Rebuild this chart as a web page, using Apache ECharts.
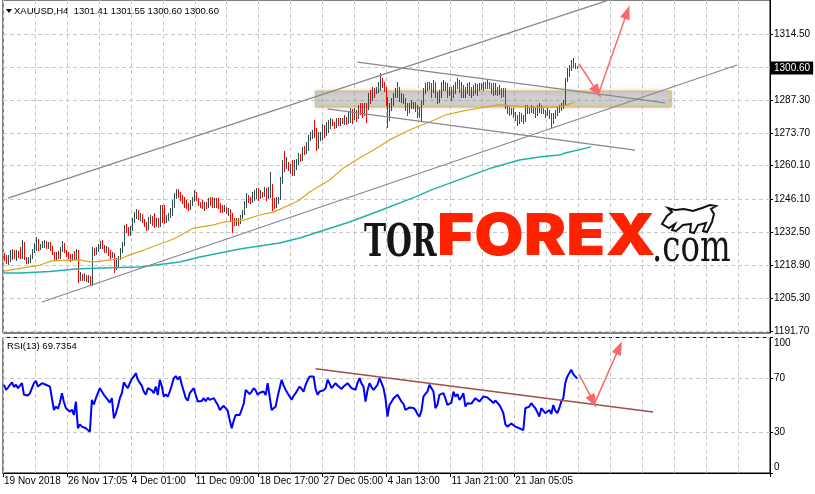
<!DOCTYPE html>
<html><head><meta charset="utf-8">
<script src="https://cdn.jsdelivr.net/npm/echarts@6/dist/echarts.min.js"></script>
<style>html,body{margin:0;padding:0;background:#fff}#c{width:815px;height:494px}</style>
</head><body><div id="c"></div><script>
// ---------- data ----------
const firstOpen = 1223.4;
const closes = [
1221.8,1220.6,1222.6,1224.6,1225.0,1222.4,1224.8,1222.9,1222.2,1228.3,
1222.3,1220.6,1221.5,1222.4,1225.0,1227.0,1229.4,1226.0,1227.2,1228.0,
1228.6,1226.6,1227.8,1226.2,1224.0,1221.6,1223.6,1222.3,1225.4,1227.9,
1225.0,1223.4,1222.5,1221.2,1222.6,1222.0,1224.6,1213.6,1214.9,1213.6,
1214.0,1212.8,1214.2,1212.4,1225.6,1223.8,1225.8,1227.0,1228.4,1226.8,
1224.8,1226.2,1223.8,1222.6,1223.6,1217.6,1219.0,1222.0,1225.2,1227.6,
1234.8,1233.6,1232.0,1234.8,1237.6,1240.2,1241.4,1238.8,1239.6,1237.6,
1235.8,1234.4,1238.2,1239.2,1237.0,1235.6,1238.0,1235.4,1242.6,1239.4,
1237.2,1238.6,1240.0,1241.8,1244.8,1247.8,1249.6,1247.8,1246.4,1245.0,
1244.0,1243.0,1242.4,1244.4,1246.4,1249.4,1246.6,1244.6,1243.8,1243.2,
1244.8,1243.0,1245.2,1244.2,1243.8,1245.6,1244.0,1243.0,1241.8,1241.4,
1243.0,1241.0,1242.0,1238.4,1237.4,1236.0,1237.8,1236.6,1238.4,1240.8,
1244.2,1247.6,1246.8,1245.6,1248.6,1249.0,1250.2,1247.0,1249.0,1247.8,
1250.6,1247.6,1250.8,1252.0,1244.2,1243.4,1245.0,1246.8,1253.4,1261.0,
1259.6,1261.4,1259.2,1260.6,1257.0,1260.2,1261.6,1264.4,1263.0,1267.0,
1266.0,1269.2,1271.8,1273.0,1274.6,1273.0,1268.0,1271.8,1273.4,1276.4,
1275.2,1277.6,1278.6,1279.2,1277.6,1276.4,1278.8,1277.6,1279.0,1278.0,
1280.2,1278.6,1281.6,1283.4,1280.2,1282.8,1280.0,1284.4,1282.8,1281.2,
1284.6,1283.8,1289.0,1287.6,1291.6,1290.4,1292.2,1294.2,1296.4,1293.2,
1292.0,1286.6,1280.6,1284.8,1287.2,1289.6,1291.4,1289.4,1287.8,1289.2,
1286.8,1284.8,1282.4,1284.6,1285.6,1286.0,1283.6,1281.4,1283.0,1286.4,
1290.8,1293.0,1294.4,1292.6,1290.8,1293.6,1290.4,1287.2,1289.0,1292.6,
1294.6,1292.6,1290.0,1291.8,1289.0,1291.6,1293.0,1295.0,1293.2,1290.4,
1289.4,1291.4,1293.2,1290.0,1292.0,1290.6,1292.4,1293.4,1292.0,1293.6,
1294.4,1292.6,1294.8,1293.0,1291.0,1289.8,1292.8,1290.2,1291.4,1291.0,
1289.4,1285.0,1283.0,1281.8,1282.8,1281.4,1280.0,1277.8,1280.6,1279.2,
1278.6,1283.2,1284.4,1282.4,1284.6,1282.6,1281.2,1283.0,1285.0,1283.6,
1282.2,1281.2,1282.8,1280.6,1278.2,1280.8,1282.0,1283.8,1284.8,1285.4,
1286.2,1295.2,1298.8,1300.6,1303.2,1301.8,1301.41,1300.60];
const highs = [
1223.9,1223.0,1223.2,1225.2,1225.6,1225.2,1225.3,1224.9,1226.5,1229.4,
1228.5,1222.4,1222.2,1223.1,1225.8,1228.0,1230.6,1229.8,1227.8,1228.9,
1229.3,1228.9,1228.6,1228.5,1226.9,1224.6,1224.3,1225.0,1226.6,1228.8,
1228.3,1225.4,1224.6,1223.7,1223.4,1224.8,1225.5,1225.2,1216.0,1215.4,
1215.6,1215.0,1214.8,1214.6,1226.6,1226.0,1226.6,1227.8,1229.0,1229.4,
1227.4,1227.0,1226.4,1225.2,1224.6,1224.0,1221.8,1222.8,1226.0,1228.4,
1235.6,1236.0,1234.6,1235.3,1238.4,1240.8,1242.0,1241.8,1240.6,1240.0,
1238.0,1236.9,1239.0,1239.7,1239.4,1240.4,1238.6,1238.3,1243.8,1243.8,
1243.8,1239.7,1240.6,1242.5,1245.9,1248.7,1250.5,1250.4,1249.4,1248.0,
1247.3,1245.9,1244.6,1245.9,1247.3,1250.1,1249.4,1246.6,1245.2,1245.9,
1245.2,1245.2,1246.6,1247.3,1247.3,1246.6,1246.6,1246.6,1244.6,1243.9,
1243.9,1243.2,1242.5,1242.4,1240.4,1238.3,1238.6,1238.3,1239.7,1241.8,
1245.3,1248.7,1248.0,1247.3,1249.4,1250.1,1250.8,1250.8,1250.1,1249.4,
1251.4,1250.8,1251.4,1257.7,1252.4,1246.6,1247.3,1247.3,1255.4,1262.3,
1266.4,1263.8,1261.8,1261.0,1262.5,1262.5,1263.0,1265.2,1265.0,1267.8,
1268.2,1270.0,1272.8,1274.2,1275.0,1279.0,1275.6,1274.2,1274.2,1277.2,
1277.0,1278.3,1279.0,1279.7,1279.4,1278.3,1279.7,1279.7,1279.7,1279.8,
1281.1,1280.4,1282.5,1283.9,1283.6,1283.9,1283.2,1285.2,1285.9,1285.9,
1285.9,1285.9,1290.1,1291.5,1292.8,1292.2,1292.8,1294.9,1298.4,1296.6,
1294.9,1292.8,1288.7,1285.9,1288.0,1290.1,1292.2,1294.9,1292.8,1290.1,
1289.6,1288.0,1285.9,1285.9,1287.3,1286.6,1286.6,1285.2,1284.5,1287.3,
1292.2,1294.2,1294.9,1294.6,1294.2,1295.6,1294.6,1290.8,1291.5,1294.9,
1295.6,1294.9,1294.2,1292.8,1292.8,1293.5,1294.9,1296.3,1295.4,1294.9,
1293.5,1292.8,1294.2,1294.9,1292.8,1293.5,1294.2,1294.0,1294.2,1294.2,
1294.9,1294.9,1295.6,1294.9,1294.2,1294.2,1294.2,1292.8,1293.5,1292.2,
1292.2,1292.2,1285.2,1284.5,1283.9,1283.9,1282.5,1281.1,1282.5,1281.8,
1281.1,1285.2,1285.2,1284.5,1285.2,1285.0,1283.9,1285.2,1285.9,1285.2,
1283.9,1283.2,1283.9,1283.2,1281.8,1281.8,1283.2,1284.5,1285.2,1285.9,
1287.3,1296.3,1300.4,1301.8,1303.9,1304.6,1302.5,1301.55];
const lows = [
1221.1,1220.0,1219.3,1220.6,1221.6,1221.9,1221.2,1222.2,1221.8,1222.0,
1221.4,1219.9,1219.8,1220.3,1221.9,1224.2,1225.4,1225.3,1225.6,1226.6,
1226.4,1226.0,1226.2,1225.4,1223.6,1221.1,1221.2,1221.9,1222.0,1224.7,
1224.2,1222.8,1221.9,1220.8,1220.9,1221.5,1221.7,1211.8,1212.9,1212.6,
1212.9,1212.2,1211.9,1211.3,1210.9,1223.0,1223.6,1224.8,1226.0,1226.2,
1224.2,1224.6,1223.2,1222.0,1222.4,1216.2,1217.4,1218.2,1221.6,1224.2,
1227.2,1232.8,1231.4,1231.6,1233.6,1236.8,1238.6,1238.2,1237.8,1237.0,
1235.2,1233.5,1234.0,1236.3,1235.6,1234.9,1235.2,1234.9,1235.0,1236.9,
1236.3,1236.9,1237.6,1239.0,1239.7,1243.2,1246.6,1247.3,1245.9,1244.6,
1243.2,1242.5,1241.8,1242.0,1243.8,1245.3,1245.9,1243.9,1243.2,1242.5,
1241.8,1242.5,1243.2,1243.9,1243.2,1243.2,1243.2,1242.5,1241.1,1241.1,
1241.2,1240.4,1239.7,1237.6,1232.8,1235.6,1235.6,1235.6,1236.3,1238.3,
1240.0,1243.2,1245.2,1244.6,1245.2,1245.9,1246.6,1245.9,1246.8,1247.3,
1247.6,1245.9,1246.6,1247.3,1241.8,1242.5,1243.2,1244.8,1246.2,1253.0,
1258.1,1259.2,1258.3,1256.9,1256.3,1256.3,1258.6,1260.8,1262.0,1262.4,
1265.0,1265.2,1266.6,1270.8,1271.6,1272.2,1266.6,1267.6,1270.8,1271.0,
1272.0,1272.8,1274.2,1275.6,1277.0,1275.6,1276.0,1277.0,1277.0,1277.6,
1277.4,1277.2,1277.6,1278.3,1277.7,1279.6,1278.6,1279.8,1281.6,1280.4,
1281.0,1278.3,1283.6,1285.9,1287.4,1288.7,1290.0,1290.8,1291.5,1292.6,
1291.2,1285.4,1276.3,1279.0,1283.2,1285.2,1288.7,1288.7,1287.0,1286.6,
1285.9,1283.2,1281.1,1282.2,1284.0,1284.0,1282.6,1280.4,1280.4,1279.0,
1285.6,1290.2,1291.5,1292.0,1288.7,1290.6,1288.7,1285.9,1286.6,1288.7,
1291.5,1291.5,1288.7,1289.4,1287.3,1288.7,1290.1,1292.2,1290.8,1288.7,
1288.7,1288.7,1290.1,1289.4,1288.7,1289.4,1290.1,1289.4,1291.5,1291.8,
1291.5,1292.2,1292.2,1292.2,1290.1,1289.4,1289.6,1289.4,1289.8,1288.7,
1289.0,1283.9,1281.8,1281.1,1281.4,1280.4,1279.0,1277.0,1277.6,1278.6,
1277.7,1278.6,1281.8,1281.8,1282.2,1281.8,1280.4,1281.1,1282.5,1281.8,
1281.8,1280.4,1281.1,1279.7,1276.3,1277.8,1279.7,1281.1,1282.5,1283.2,
1283.9,1285.6,1295.0,1297.4,1299.7,1301.1,1300.4,1300.60];
const rsi = [
65.1,61.4,63.0,65.1,66.8,63.5,65.1,62.6,62.0,66.3,
57.7,56.4,57.2,58.9,62.6,66.3,68.0,63.8,64.9,66.3,
67.5,65.1,65.8,63.8,55.0,46.5,49.0,47.5,52.0,58.9,
52.4,47.8,46.6,45.3,46.8,42.8,52.7,33.0,35.9,34.2,
35.2,33.0,32.2,30.5,54.0,50.6,55.2,58.9,62.6,60.1,
57.7,58.4,54.0,52.0,55.2,40.4,44.0,49.0,55.2,58.9,
66.9,64.5,62.6,66.3,69.5,71.2,73.7,68.8,69.9,64.3,
60.1,57.8,62.6,63.8,61.0,58.9,63.8,57.5,68.8,64.0,
56.4,58.0,56.4,60.1,64.8,70.0,71.5,69.0,71.2,65.1,
60.3,55.2,53.4,58.9,60.8,62.6,57.6,52.7,51.5,53.2,
55.2,53.0,55.6,54.0,53.4,55.3,52.7,50.4,46.5,47.2,
49.6,47.8,46.0,39.1,33.0,38.6,42.8,41.8,42.8,44.1,
50.9,61.4,60.5,58.2,60.1,62.6,61.0,57.7,59.2,58.0,
60.1,57.5,66.3,65.0,46.5,47.0,49.0,56.4,62.5,68.8,
64.5,61.4,58.9,57.7,54.0,57.0,58.9,61.5,63.8,62.0,
60.1,65.0,68.5,71.2,70.0,71.2,62.0,57.7,60.1,61.4,
61.0,62.5,68.8,66.0,62.6,64.0,66.3,64.5,63.8,62.0,
63.8,64.5,66.3,65.0,62.6,63.5,61.4,66.5,70.0,66.0,
63.8,52.7,61.0,66.3,63.5,61.4,63.2,65.1,70.0,66.5,
62.6,55.0,41.6,50.2,52.5,55.0,56.4,57.7,55.2,52.7,
51.0,46.5,47.2,48.4,49.0,48.0,46.5,43.5,41.6,46.0,
56.4,58.5,60.1,65.1,62.6,60.1,47.8,50.5,57.7,58.5,
58.9,55.0,50.2,49.0,52.0,60.1,56.4,58.2,54.0,56.0,
58.9,49.0,51.5,52.7,51.2,50.2,55.2,54.0,52.7,54.5,
56.4,55.2,55.8,56.4,53.2,51.5,53.5,52.7,50.2,47.5,
44.1,36.0,34.2,33.0,36.5,37.9,34.2,33.5,33.0,32.2,
31.7,47.8,48.2,49.0,51.5,49.5,47.8,45.0,41.6,47.8,
46.0,44.1,45.5,46.5,43.5,50.2,46.0,44.1,47.8,52.7,
55.0,66.3,71.0,73.7,76.2,73.0,71.2,69.7354];
// moving averages, read at bar indices: [bar, price]
const maFast = [[0,1216.5],[18,1219.0],[24,1220.7],[38,1221.1],[43,1220.3],[48,1220.5],[53,1221.1],[58,1221.5],[63,1223.2],[70,1225.2],[78,1227.7],[85,1229.8],[95,1234.3],[105,1235.6],[110,1236.8],[120,1237.6],[128,1239.7],[135,1240.9],[145,1244.7],[148,1245.9],[153,1249.2],[163,1254.2],[170,1259.2],[178,1263.3],[185,1266.6],[193,1270.8],[203,1274.9],[213,1278.2],[221,1281.1],[230,1282.8],[238,1284.0],[248,1285.3],[263,1284.4],[275,1284.4],[280,1284.8],[286,1286.5]];
const maSlow = [[0,1215.7],[8,1215.7],[23,1216.3],[36,1217.4],[48,1217.8],[68,1218.2],[88,1220.3],[98,1222.3],[118,1225.6],[138,1228.1],[148,1230.2],[173,1236.8],[189,1241.8],[206,1247.2],[214,1250.1],[244,1259.2],[258,1262.5],[268,1263.7],[278,1264.5],[281,1265.4],[294,1267.9]];
// drawn annotations: [bar, price]
const trendLines = [
  [[2,1246.7],[304,1329.0]],
  [[18.5,1203.7],[366.5,1301.8]],
  [[177,1303.0],[330.5,1286.1]],
  [[162,1283.6],[316,1266.6]]
];
const zone = [[155.5,1291.0],[334,1284.4]];
const priceArrows = [[[287.6,1302.2],[297.2,1290.7]],[[297.6,1290.7],[312,1323.7]]];
const rsiTrend = [[155.5,76.9],[325,45.1]];
const rsiArrows = [[[287.6,72.5],[295,52.8]],[[295.6,52.5],[308,92.5]]];
// axes
const totalSlots = 384;
const dateLabels = ['19 Nov 2018','26 Nov 17:05','4 Dec 01:00','11 Dec 09:00','18 Dec 17:00','27 Dec 05:00','4 Jan 13:00','11 Jan 21:00','21 Jan 05:05'];
const labelStep = 32, gridStep = 16;
const priceGrid = [1191.7,1205.3,1218.9,1232.5,1246.1,1260.1,1273.7,1287.3,1300.9,1314.5];
const priceLabels = [1191.7,1205.3,1218.9,1232.5,1246.1,1260.1,1273.7,1287.3,1314.5];
const priceMin = 1190.87, priceMax = 1328.70;
const rsiTicks = [0,30,70,100];
const lastPrice = 1300.60;
const headerText = 'XAUUSD,H4  1301.41 1301.55 1300.60 1300.60';
const rsiText = 'RSI(13) 69.7354';

// ---------- build ----------
const slots = Array.from({length: totalSlots}, (_, i) => String(i));
const bars = closes.map((c, i) => {
  const o = i === 0 ? firstOpen : closes[i - 1];
  return [i, o, c, Math.min(lows[i], o, c), Math.max(highs[i], o, c)];
});
const F = '"Liberation Sans", Arial, sans-serif';
const dash = {color: '#c8c8c8', type: [4, 3], width: 1};
const isLabel = i => i % labelStep === 0 && i < closes.length;

const chart = echarts.init(document.getElementById('c'), null, {renderer: 'canvas'});
const xBase = (gi, showLabels) => ({
  type: 'category', gridIndex: gi, data: slots, boundaryGap: true,
  axisLine: {show: showLabels, lineStyle: {color: '#000'}},
  axisTick: {show: showLabels, interval: i => isLabel(i), length: 4, lineStyle: {color: '#000'}},
  axisLabel: {show: showLabels, interval: i => isLabel(i), formatter: (v, i) => dateLabels[i / labelStep] || '',
    align: 'left', margin: 3, color: '#000', fontSize: 10, fontFamily: F},
  splitLine: {show: true, interval: i => i % gridStep === 0, lineStyle: dash}
});
const arrowLine = (pairs, xi, yi) => ({
  type: 'line', xAxisIndex: xi, yAxisIndex: yi, data: [], silent: true, z: 6,
  markLine: {silent: true, symbol: ['none', 'triangle'], symbolSize: [10, 14], animation: false,
    lineStyle: {color: '#f86a6a', width: 1.5, type: 'solid'}, itemStyle: {color: '#f86a6a'}, label: {show: false},
    data: pairs.map(p => [{coord: p[0]}, {coord: p[1]}])}
});

const series = [
  {type: 'custom', xAxisIndex: 0, yAxisIndex: 0, data: bars, z: 2,
    encode: {x: 0, y: [1, 2, 3, 4]},
    renderItem: (params, api) => {
      const hi = api.coord([api.value(0), api.value(4)]);
      const lo = api.coord([api.value(0), api.value(3)]);
      const up = api.value(2) >= api.value(1);
      const px = Math.round(hi[0]) + 0.5;
      return {type: 'line', shape: {x1: px, y1: Math.round(hi[1]), x2: px, y2: Math.round(lo[1]) + 1},
        style: {stroke: up ? '#2f4f4f' : '#ff0000', lineWidth: 1}};
    }},
  {type: 'line', xAxisIndex: 0, yAxisIndex: 0, data: maFast, symbol: 'none', z: 3,
    lineStyle: {color: '#daa520', width: 1.2}},
  {type: 'line', xAxisIndex: 0, yAxisIndex: 0, data: maSlow, symbol: 'none', z: 3,
    lineStyle: {color: '#20b2aa', width: 1.5}},
  ...trendLines.map(t => ({type: 'line', xAxisIndex: 0, yAxisIndex: 0, data: t, symbol: 'none', z: 4,
    lineStyle: {color: '#888', width: 1.3}})),
  {type: 'line', xAxisIndex: 0, yAxisIndex: 0, data: [], z: 5, silent: true,
    markArea: {silent: true, itemStyle: {color: 'rgba(160,160,160,0.36)', borderColor: '#e6b54a', borderWidth: 1,
      shadowBlur: 4, shadowColor: 'rgba(0,0,0,0.25)'},
      data: [[{coord: zone[0]}, {coord: zone[1]}]]}},
  arrowLine(priceArrows, 0, 0),
  {type: 'line', xAxisIndex: 0, yAxisIndex: 0, data: [], clip: false, z: 10, silent: true,
    markLine: {silent: true, symbol: 'none', animation: false,
      lineStyle: {color: 'rgba(0,0,0,0)', width: 0},
      label: {show: true, position: 'end', distance: 1, formatter: lastPrice.toFixed(2), color: '#fff', opacity: 1,
        backgroundColor: '#000', padding: [2, 3, 1, 3], fontSize: 10, fontFamily: F},
      data: [{yAxis: lastPrice}]}},
  {type: 'line', xAxisIndex: 1, yAxisIndex: 1, data: rsi, symbol: 'none', z: 3,
    lineStyle: {color: '#0000ff', width: 2}},
  {type: 'line', xAxisIndex: 1, yAxisIndex: 1, data: rsiTrend, symbol: 'none', z: 4,
    lineStyle: {color: '#a04e4e', width: 1.5}},
  arrowLine(rsiArrows, 1, 1)
];

chart.setOption({
  animation: false,
  backgroundColor: '#fff',
  grid: [
    {left: 3, right: 45, top: 0, height: 333, show: true, borderColor: '#000', borderWidth: 1, backgroundColor: '#fff'},
    {left: 3, right: 45, top: 337.5, height: 135.5, show: true, borderColor: '#000', borderWidth: 1, backgroundColor: '#fff'}
  ],
  xAxis: [xBase(0, false), xBase(1, true)],
  yAxis: [
    {type: 'value', gridIndex: 0, position: 'right', min: priceMin, max: priceMax, scale: true,
      axisLine: {show: true, lineStyle: {color: '#000'}},
      axisTick: {show: true, length: 3, customValues: priceGrid, lineStyle: {color: '#000'}},
      axisLabel: {customValues: priceLabels, formatter: v => v.toFixed(2), margin: 4, color: '#000', fontSize: 10, fontFamily: F},
      splitLine: {show: true, lineStyle: dash}},
    {type: 'value', gridIndex: 1, position: 'right', min: 0, max: 100,
      axisLine: {show: true, lineStyle: {color: '#000'}},
      axisTick: {show: true, length: 3, customValues: rsiTicks, lineStyle: {color: '#000'}},
      axisLabel: {customValues: rsiTicks, margin: 4, color: '#000', fontSize: 10, fontFamily: F,
        formatter: v => v === 100 ? '{t|100}' : (v === 0 ? '{b|0}' : String(v)),
        rich: {t: {padding: [11, 0, 0, 0], fontSize: 10, fontFamily: F, color: '#000'},
               b: {padding: [0, 0, 12, 0], fontSize: 10, fontFamily: F, color: '#000'}}},
      splitLine: {show: true, lineStyle: dash}}
  ],
  series,
  graphic: [
    {type: 'polygon', z: 100, shape: {points: [[6, 9], [12, 9], [9, 13]]}, style: {fill: '#000'}},
    {type: 'text', z: 100, x: 14, y: 11, style: {text: headerText, font: '9.5px ' + F, fill: '#000', verticalAlign: 'middle'}},
    {type: 'text', z: 100, x: 7, y: 346, style: {text: rsiText, font: '9.5px ' + F, fill: '#000', verticalAlign: 'middle'}},
    {type: 'text', z: 1, x: 364, y: 244, scaleX: 0.66, style: {text: 'TOR', font: 'bold 45px "DejaVu Serif"', fill: '#161616', verticalAlign: 'middle'}},
    {type: 'text', z: 1, x: 437, y: 238, scaleX: 1.1, style: {text: 'FOREX', font: '900 58px Inter', fill: '#ff2200', verticalAlign: 'middle'}},
    {type: 'text', z: 1, x: 652, y: 249, scaleX: 0.72, style: {text: '.com', font: '45px "DejaVu Serif"', fill: '#161616', verticalAlign: 'middle'}},
    {type: 'polygon', z: 1, shape: {points: [[662,224],[667,216],[672,212],[668,208],[675,210],[684,209],[693,211],[702,208],[710,205],[716,206],[711,209],[714,214],[712,222],[707,232],[703,231],[706,223],[698,225],[694,233],[690,232],[691,224],[683,225],[676,231],[672,230],[675,224],[669,228]]},
      style: {fill: '#fff', stroke: '#111', lineWidth: 2}}
  ]
});
</script></body></html>
